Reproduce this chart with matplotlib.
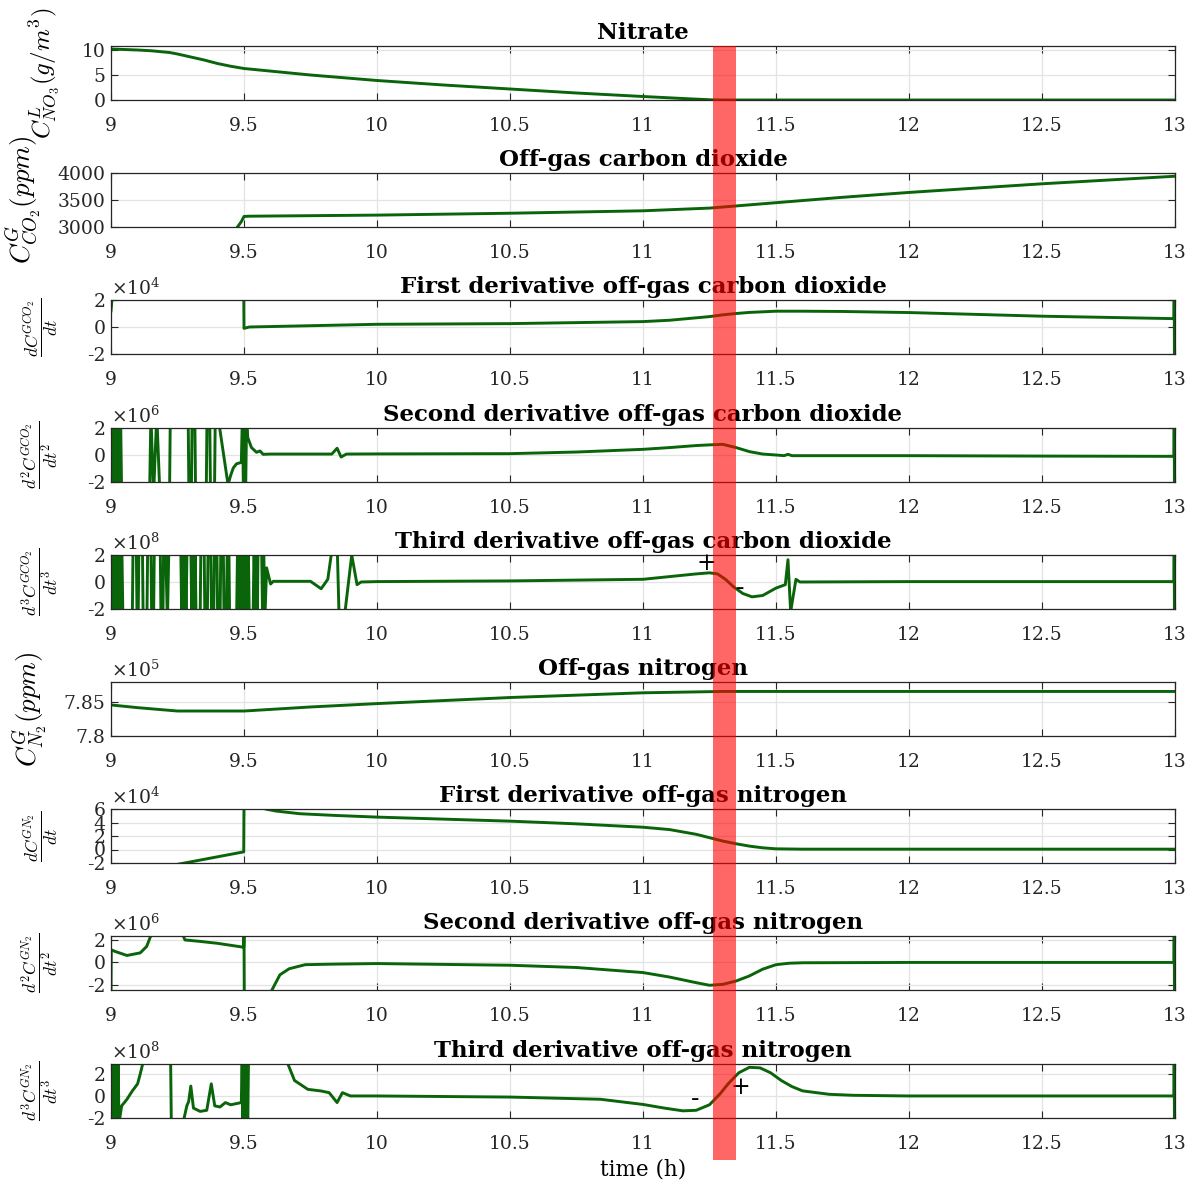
import numpy as np
import matplotlib.pyplot as plt
from matplotlib.patches import Rectangle
from matplotlib.transforms import blended_transform_factory

plt.rcParams['font.family'] = 'DejaVu Serif'
plt.rcParams['mathtext.fontset'] = 'cm'

# ---- data (derivatives in units of the x10^n shown) ----
t_no3 = [9.0, 9.1, 9.15, 9.22, 9.25, 9.3, 9.35, 9.4, 9.45, 9.5, 9.75, 10.0, 10.25, 10.5, 10.75,
         11.0, 11.15, 11.25, 11.3, 12.0, 13.0]
no3 = [10.2, 10.0, 9.85, 9.5, 9.2, 8.6, 8.0, 7.3, 6.75, 6.3, 5.0, 3.9, 3.0, 2.2, 1.4,
       0.7, 0.3, 0.05, 0.0, 0.0, 0.0]

t_co2 = [9.474, 9.49, 9.5, 9.52, 10.0, 10.5, 11.0, 11.25, 11.5, 11.75, 12.0, 12.5, 13.0]
co2 = [2990, 3100, 3195, 3200, 3220, 3255, 3300, 3350, 3450, 3550, 3640, 3800, 3940]

t_dco2 = [9.0, 9.003, 9.01, 9.499, 9.5, 9.52, 10.0, 10.5, 11.0, 11.1, 11.2, 11.25, 11.3, 11.35,
          11.4, 11.5, 11.6, 11.75, 12.0, 12.5, 12.996, 12.997, 12.998]
dco2 = [1.2, 1.9, 3, 3, -0.1, 0.0, 0.2, 0.25, 0.4, 0.5, 0.68, 0.77, 0.9, 1.0,
        1.08, 1.17, 1.17, 1.15, 1.07, 0.8, 0.62, 3, -3]

t_d2co2 = [9.000, 9.004, 9.008, 9.012, 9.016, 9.020, 9.024, 9.028, 9.032, 9.036, 9.040,
           9.145, 9.150, 9.160, 9.172, 9.184, 9.220, 9.223,
           9.290, 9.293, 9.302, 9.305, 9.315, 9.318,
           9.358, 9.361, 9.371, 9.374, 9.389, 9.392, 9.401, 9.440,
           9.450, 9.460, 9.472, 9.490, 9.494, 9.498, 9.502, 9.506, 9.510,
           9.514, 9.528, 9.547, 9.560, 9.572, 9.600, 9.830, 9.850, 9.865, 9.885, 10.0,
           10.5, 10.75, 11.0, 11.1, 11.2, 11.25, 11.3, 11.35, 11.4, 11.45, 11.5, 11.53, 11.545, 11.56,
           12.0, 12.5, 12.996, 12.997, 12.998]
d2co2 = [-3, 3, -3, 3, -3, 3, -3, 3, -3, 3, -3,
         -3, 3, -3, 3, -3, -3, 3,
         3, -3, -3, 3, 3, -3,
         -3, 3, 3, -3, -3, 3, 3, -2.2,
         -1.5, -0.95, -0.65, -0.55, 3, -3, 3, -3, 3,
         1.3, 0.55, 0.2, 0.3, 0.05, 0.07, 0.07, 0.5, -0.15, 0.07, 0.08,
         0.1, 0.22, 0.42, 0.55, 0.7, 0.75, 0.79, 0.55, 0.25, 0.07, 0.0, -0.05, 0.05, -0.05,
         -0.05, -0.08, -0.1, 3, -3]

t_d3co2 = [9.000, 9.0045, 9.009, 9.0135, 9.018, 9.0225, 9.027, 9.0315, 9.036, 9.0405, 9.045,
           9.080, 9.083, 9.095, 9.098, 9.102, 9.105, 9.118, 9.121, 9.135, 9.138, 9.150, 9.153,
           9.160, 9.163, 9.185, 9.188, 9.195, 9.198, 9.205, 9.212, 9.218,
           9.262, 9.266, 9.270, 9.274, 9.278, 9.282, 9.286,
           9.300, 9.304, 9.308, 9.312, 9.316, 9.320,
           9.335, 9.338, 9.350, 9.353, 9.362, 9.365, 9.375, 9.378, 9.386, 9.389, 9.398, 9.401,
           9.410, 9.413, 9.422, 9.425, 9.434, 9.437, 9.443, 9.446,
           9.472, 9.476, 9.480, 9.484, 9.488, 9.492, 9.496, 9.500, 9.504, 9.508, 9.512, 9.516, 9.520,
           9.534, 9.538, 9.542, 9.546, 9.550, 9.553, 9.566, 9.570, 9.574, 9.578,
           9.585, 9.600, 9.610, 9.750, 9.790, 9.815, 9.835, 9.850, 9.858, 9.875, 9.905, 9.925, 9.940,
           10.0, 10.5, 11.0, 11.1, 11.2, 11.25, 11.28, 11.31, 11.34, 11.375, 11.41, 11.45, 11.5,
           11.535, 11.545, 11.555, 11.575, 11.59, 12.0, 12.5, 12.996, 12.997, 12.998]
d3co2 = [-3, 3, -3, 3, -3, 3, -3, 3, -3, 3, -3,
         -3, 3, 3, -3, -3, 3, 3, -3, -3, 3, 3, -3,
         -3, 3, 3, -3, -3, 3, 3, -3, 3,
         3, -3, 3, -3, 3, -3, 3,
         3, -3, 3, -3, 3, -3,
         -3, 3, 3, -3, -3, 3, 3, -3, -3, 3, 3, -3,
         -3, 3, 3, -3, -3, 3, 3, -3,
         -3, 3, -3, 3, -3, 3, -3, 3, -3, 3, -3, 3, -3,
         -3, 3, -3, 3, -3, 3, 3, -3, 3, -3,
         1.05, -0.15, 0.05, 0.05, -0.5, 0.2, 3, 3, -3, -3, 2.0, -0.2, 0.0,
         0.03, 0.08, 0.2, 0.4, 0.6, 0.68, 0.6, 0.2, -0.35, -0.85, -1.1, -1.0, -0.45,
         -0.2, 1.65, -2.2, 0.2, 0.0, 0.03, 0.03, 0.03, 3, -3]

t_n2 = [9.0, 9.1, 9.25, 9.5, 9.75, 10.0, 10.5, 11.0, 11.3, 11.5, 12.0, 13.0]
n2 = [7.846, 7.842, 7.837, 7.837, 7.843, 7.848, 7.857, 7.864, 7.866, 7.866, 7.866, 7.866]

t_dn2 = [9.0, 9.249, 9.25, 9.499, 9.5, 9.575, 9.58, 9.62, 9.71, 9.84, 10.0, 10.25, 10.5, 10.75,
         11.0, 11.1, 11.2, 11.25, 11.3, 11.35, 11.4, 11.45, 11.5, 11.6, 12.0, 13.0]
dn2 = [-3, -3, -2.2, -0.35, 7, 7, 6.0, 5.7, 5.3, 5.05, 4.8, 4.5, 4.2, 3.8,
       3.3, 2.95, 2.25, 1.75, 1.25, 0.85, 0.5, 0.25, 0.1, 0.05, 0.05, 0.05]

t_d2n2 = [9.0, 9.001, 9.015, 9.06, 9.11, 9.134, 9.16, 9.26, 9.278, 9.335, 9.4, 9.485, 9.499,
          9.5, 9.501, 9.6, 9.605, 9.635, 9.67, 9.73, 9.84, 10.0, 10.5, 10.75, 11.0, 11.1, 11.2,
          11.25, 11.3, 11.35, 11.4, 11.45, 11.5, 11.55, 11.6, 12.0, 12.5, 12.996, 12.997, 12.998]
d2n2 = [-3, 1.13, 0.98, 0.62, 0.85, 1.42, 3, 3, 2.0, 1.87, 1.7, 1.4, 1.35,
        3, -3, -3, -2.45, -1.1, -0.56, -0.2, -0.15, -0.1, -0.25, -0.45, -0.9, -1.3, -1.8,
        -2.03, -1.95, -1.65, -1.2, -0.6, -0.2, -0.07, -0.03, 0.0, 0.0, 0.0, 3, -3]

t_d3n2 = [9.000, 9.003, 9.006, 9.009, 9.012, 9.015, 9.018, 9.021, 9.024, 9.027, 9.030,
          9.033, 9.04, 9.06, 9.08, 9.10, 9.11, 9.125, 9.224, 9.227, 9.272, 9.275, 9.285,
          9.292, 9.30, 9.31, 9.335, 9.36, 9.377, 9.39, 9.41, 9.43, 9.45, 9.49,
          9.493, 9.496, 9.499, 9.502, 9.505, 9.508, 9.511, 9.514, 9.517, 9.520,
          9.655, 9.665, 9.69, 9.74, 9.79, 9.82, 9.85, 9.87, 9.9, 10.0, 10.5, 10.84,
          11.0, 11.08, 11.15, 11.2, 11.25, 11.29, 11.32, 11.36, 11.4, 11.44, 11.48, 11.52,
          11.56, 11.6, 11.7, 11.79, 12.0, 12.5, 12.996, 12.997, 12.998]
d3n2 = [-3, 3.5, -3, 3.5, -3, 3.5, -3, 3.5, -3, 3.5, -3,
        -2.0, -0.9, -0.3, 0.45, 1.1, 2.0, 3.5, 3.5, -3, -3, -2.0, -0.9,
        -0.5, 0.9, -1.1, -1.4, -1.3, 1.1, -0.9, -1.0, -0.6, -0.8, -0.6,
        3.5, -3, 3.5, -3, 3.5, -3, 3.5, -3, 3.5, 3.5,
        3.5, 2.9, 1.4, 0.6, 0.45, 0.3, -0.6, 0.3, 0.0, 0.0, -0.1, -0.3,
        -0.77, -1.1, -1.35, -1.3, -0.8, 0.2, 1.1, 2.1, 2.6, 2.55, 2.1, 1.4,
        0.85, 0.46, 0.15, 0.06, 0.0, 0.0, 0.0, 3.5, -3]

titles = ['Nitrate', 'Off-gas carbon dioxide', 'First derivative off-gas carbon dioxide',
          'Second derivative off-gas carbon dioxide', 'Third derivative off-gas carbon dioxide',
          'Off-gas nitrogen', 'First derivative off-gas nitrogen',
          'Second derivative off-gas nitrogen', 'Third derivative off-gas nitrogen']
ylabels = [r'$C^L_{NO_3}(g/m^3)$', r'$C^G_{CO_2}(ppm)$',
           r'$\dfrac{dC^{GCO_2}}{dt}$', r'$\dfrac{d^2C^{GCO_2}}{dt^2}$', r'$\dfrac{d^3C^{GCO_2}}{dt^3}$',
           r'$C^G_{N_2}(ppm)$',
           r'$\dfrac{dC^{GN_2}}{dt}$', r'$\dfrac{d^2C^{GN_2}}{dt^2}$', r'$\dfrac{d^3C^{GN_2}}{dt^3}$']
exponents = [None, None, 4, 6, 8, 5, 4, 6, 8]
ylims = [(0, 10.8), (3000, 4000), (-2, 2), (-2, 2), (-2, 2), (7.8, 7.88), (-2, 6), (-2.45, 2.35), (-2, 2.9)]
yticks = [[0, 5, 10], [3000, 3500, 4000], [-2, 0, 2], [-2, 0, 2], [-2, 0, 2], [7.8, 7.85],
          [-2, 0, 2, 4, 6], [-2, 0, 2], [-2, 0, 2]]
ytick_labels = [['0', '5', '10'], ['3000', '3500', '4000'], ['-2', '0', '2'], ['-2', '0', '2'],
                ['-2', '0', '2'], ['7.8', '7.85'], ['-2', '0', '2', '4', '6'], ['-2', '0', '2'],
                ['-2', '0', '2']]
xticks = [9, 9.5, 10, 10.5, 11, 11.5, 12, 12.5, 13]
xtick_labels = ['9', '9.5', '10', '10.5', '11', '11.5', '12', '12.5', '13']

series = [(t_no3, no3), (t_co2, co2), (t_dco2, dco2), (t_d2co2, d2co2), (t_d3co2, d3co2),
          (t_n2, n2), (t_dn2, dn2), (t_d2n2, d2n2), (t_d3n2, d3n2)]

# time of the detected event (red band)
event_start, event_end = 11.265, 11.35

W, H = 1197, 1189
fig = plt.figure(figsize=(W / 100, H / 100), dpi=100)
tops = [46, 173, 300, 428, 555, 682, 809, 936, 1064]
label_x = [-0.046, -0.064, -0.048, -0.048, -0.048, -0.058, -0.048, -0.048, -0.048]
label_size = [18, 19.5, 12.5, 12.5, 12.5, 19.5, 12.5, 12.5, 12.5]
green = '#0a640a'

axes = []
for i, top in enumerate(tops):
    ax = fig.add_axes([111 / W, 1 - (top + 54) / H, 1064 / W, 54 / H])
    t, v = series[i]
    ax.plot(t, v, color=green, lw=2.1, solid_joinstyle='round')
    ax.set_xlim(9, 13)
    ax.set_ylim(*ylims[i])
    ax.set_xticks(xticks)
    ax.set_xticklabels(xtick_labels)
    ax.set_yticks(yticks[i])
    ax.set_yticklabels(ytick_labels[i])
    ax.grid(True, color='#e3e3e3', lw=0.9)
    ax.set_axisbelow(True)
    ax.tick_params(direction='in', top=True, right=True, length=5, width=0.8,
                   labelsize=13.5, colors='#262626')
    ax.tick_params(axis='x', pad=12)
    ax.tick_params(axis='y', pad=4)
    for sp in ax.spines.values():
        sp.set_color('#262626')
        sp.set_linewidth(0.9)
    ax.set_title(titles[i], fontsize=16.5, fontweight='bold', pad=5)
    ax.set_ylabel(ylabels[i], fontsize=label_size[i])
    ax.yaxis.set_label_coords(label_x[i], 0.5)
    if exponents[i] is not None:
        ax.text(0.0, 1.02, r'$\times10^{%d}$' % exponents[i], transform=ax.transAxes,
                ha='left', va='bottom', fontsize=13.5, color='#262626',
                math_fontfamily='dejavuserif')
    axes.append(ax)

# sign markers around the event
axes[4].text(11.237, 1.4, '+', ha='center', va='center', fontsize=17)
axes[4].text(11.365, -0.47, '-', ha='center', va='center', fontsize=18)
axes[8].text(11.195, -0.3, '-', ha='center', va='center', fontsize=18)
axes[8].text(11.365, 0.77, '+', ha='center', va='center', fontsize=17)

axes[-1].set_xlabel('time (h)', fontsize=15.5, labelpad=4)

trans = blended_transform_factory(axes[-1].transData, fig.transFigure)
band_top, band_bot = 1 - 46 / H, 1 - 1160 / H
fig.add_artist(Rectangle((event_start, band_bot), event_end - event_start, band_top - band_bot,
                         transform=trans, facecolor='red', alpha=0.6, edgecolor='none', zorder=5))

fig.savefig('out.png', dpi=100)
